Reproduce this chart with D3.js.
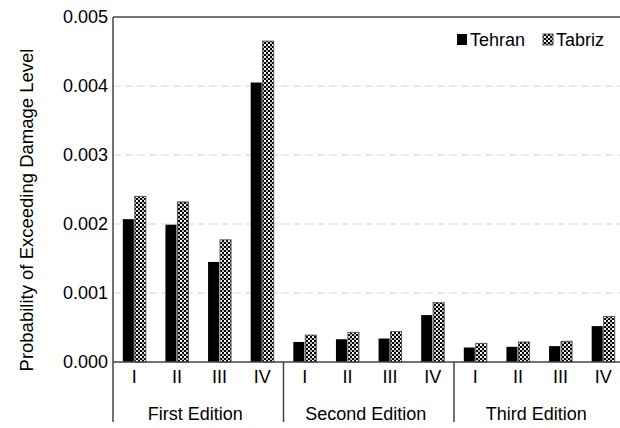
<!DOCTYPE html>
<html><head><meta charset="utf-8">
<script src="https://cdn.jsdelivr.net/npm/d3@7"></script>
<style>body{margin:0;background:#fff}svg{display:block;font-family:"Liberation Sans",Arial,sans-serif}</style>
</head><body><svg id="c" width="620" height="428"></svg>
<script>
const editions = ["First Edition", "Second Edition", "Third Edition"];
const levels = ["I", "II", "III", "IV"];
const series = ["Tehran", "Tabriz"];
const tehran = [0.00207, 0.00199, 0.00145, 0.00405, 0.00029, 0.00033, 0.00034, 0.00068, 0.00021, 0.00022, 0.00023, 0.00052];
const tabriz = [0.00240, 0.00232, 0.00177, 0.00465, 0.00039, 0.00043, 0.00044, 0.00086, 0.00027, 0.00029, 0.00030, 0.00066];
const yTicks = [0, 0.001, 0.002, 0.003, 0.004, 0.005];
const yTitle = "Probability of Exceeding Damage Level";

const svg = d3.select("#c");
const M = {l: 113, t: 17, r: 624.5, b: 362};
const rows = [];
editions.forEach((e, gi) => levels.forEach((lv, li) => {
  const i = gi * 4 + li;
  rows.push({id: i, edition: e, level: lv, Tehran: tehran[i], Tabriz: tabriz[i]});
}));

const x0 = d3.scaleBand().domain(rows.map(d => d.id)).range([M.l, M.r]).padding(0);
const xg = d3.scaleBand().domain(editions).range([M.l, M.r]).padding(0);
const x1 = d3.scaleBand().domain(series).range([x0.bandwidth() / 2 - 11.5, x0.bandwidth() / 2 + 11.5]).paddingInner(0.08);
const y = d3.scaleLinear().domain([0, 0.005]).range([M.b, M.t]);

const defs = svg.append("defs");
const pat = defs.append("pattern").attr("id", "chk").attr("patternUnits", "userSpaceOnUse")
  .attr("width", 4).attr("height", 4);
pat.append("rect").attr("width", 4).attr("height", 4).attr("fill", "#000");
pat.append("rect").attr("x", 0).attr("y", 0).attr("width", 2).attr("height", 2).attr("fill", "#fff");
pat.append("rect").attr("x", 2).attr("y", 2).attr("width", 2).attr("height", 2).attr("fill", "#bbb");

// gridlines
svg.append("g").selectAll("line").data(yTicks.filter(t => t > 0 && t < 0.005)).join("line")
  .attr("x1", M.l).attr("x2", 620).attr("y1", d => y(d)).attr("y2", d => y(d))
  .attr("stroke", "#d4d4d4").attr("stroke-width", 1.2).attr("stroke-dasharray", "8,4");

// y axis labels
const yAxis = d3.axisLeft(y).tickValues(yTicks).tickFormat(d3.format(".3f")).tickSize(0).tickPadding(5);
const ga = svg.append("g").attr("transform", `translate(${M.l},0)`).call(yAxis);
ga.select(".domain").remove();
ga.selectAll("text").attr("font-size", 18).attr("fill", "#000").attr("font-family", "Liberation Sans, Arial, sans-serif");

// bars
const cols = {Tehran: "#000", Tabriz: "url(#chk)"};
const g = svg.append("g");
rows.forEach(r => {
  series.forEach(s => {
    g.append("rect")
      .attr("x", x0(r.id) + x1(s)).attr("width", x1.bandwidth())
      .attr("y", y(r[s])).attr("height", y(0) - y(r[s]))
      .attr("fill", cols[s])
      .attr("stroke", s === "Tabriz" ? "#555" : "none").attr("stroke-width", 1);
  });
});

// frame lines
const ax = "#444";
svg.append("line").attr("x1", M.l).attr("x2", 620).attr("y1", M.t).attr("y2", M.t).attr("stroke", ax).attr("stroke-width", 1.5);
svg.append("line").attr("x1", M.l).attr("x2", 620).attr("y1", y(0)).attr("y2", y(0)).attr("stroke", ax).attr("stroke-width", 1.5);
svg.append("line").attr("x1", M.l).attr("x2", M.l).attr("y1", M.t).attr("y2", 422).attr("stroke", ax).attr("stroke-width", 1.5);
svg.append("g").selectAll("line").data(editions.slice(1)).join("line")
  .attr("x1", d => xg(d)).attr("x2", d => xg(d)).attr("y1", y(0)).attr("y2", 422)
  .attr("stroke", ax).attr("stroke-width", 1.5);

// category labels
svg.append("g").selectAll("text").data(rows).join("text")
  .attr("x", d => x0(d.id) + x0.bandwidth() / 2).attr("y", 383)
  .attr("text-anchor", "middle").attr("font-size", 18).text(d => d.level);
svg.append("g").selectAll("text").data(editions).join("text")
  .attr("x", d => xg(d) + xg.bandwidth() / 2 - 3).attr("y", 420)
  .attr("text-anchor", "middle").attr("font-size", 18).text(d => d);

// y title
svg.append("text").attr("transform", "translate(33,210) rotate(-90)")
  .attr("text-anchor", "middle").attr("font-size", 18.5).text(yTitle);

// legend
const leg = svg.append("g");
const lx = [457, 543];
series.forEach((s, i) => {
  leg.append("rect").attr("x", lx[i]).attr("y", 34).attr("width", 10).attr("height", 11)
    .attr("fill", cols[s]).attr("stroke", s === "Tabriz" ? "#555" : "none");
  leg.append("text").attr("x", lx[i] + 13).attr("y", 45.5).attr("font-size", 18).text(s);
});
</script></body></html>
